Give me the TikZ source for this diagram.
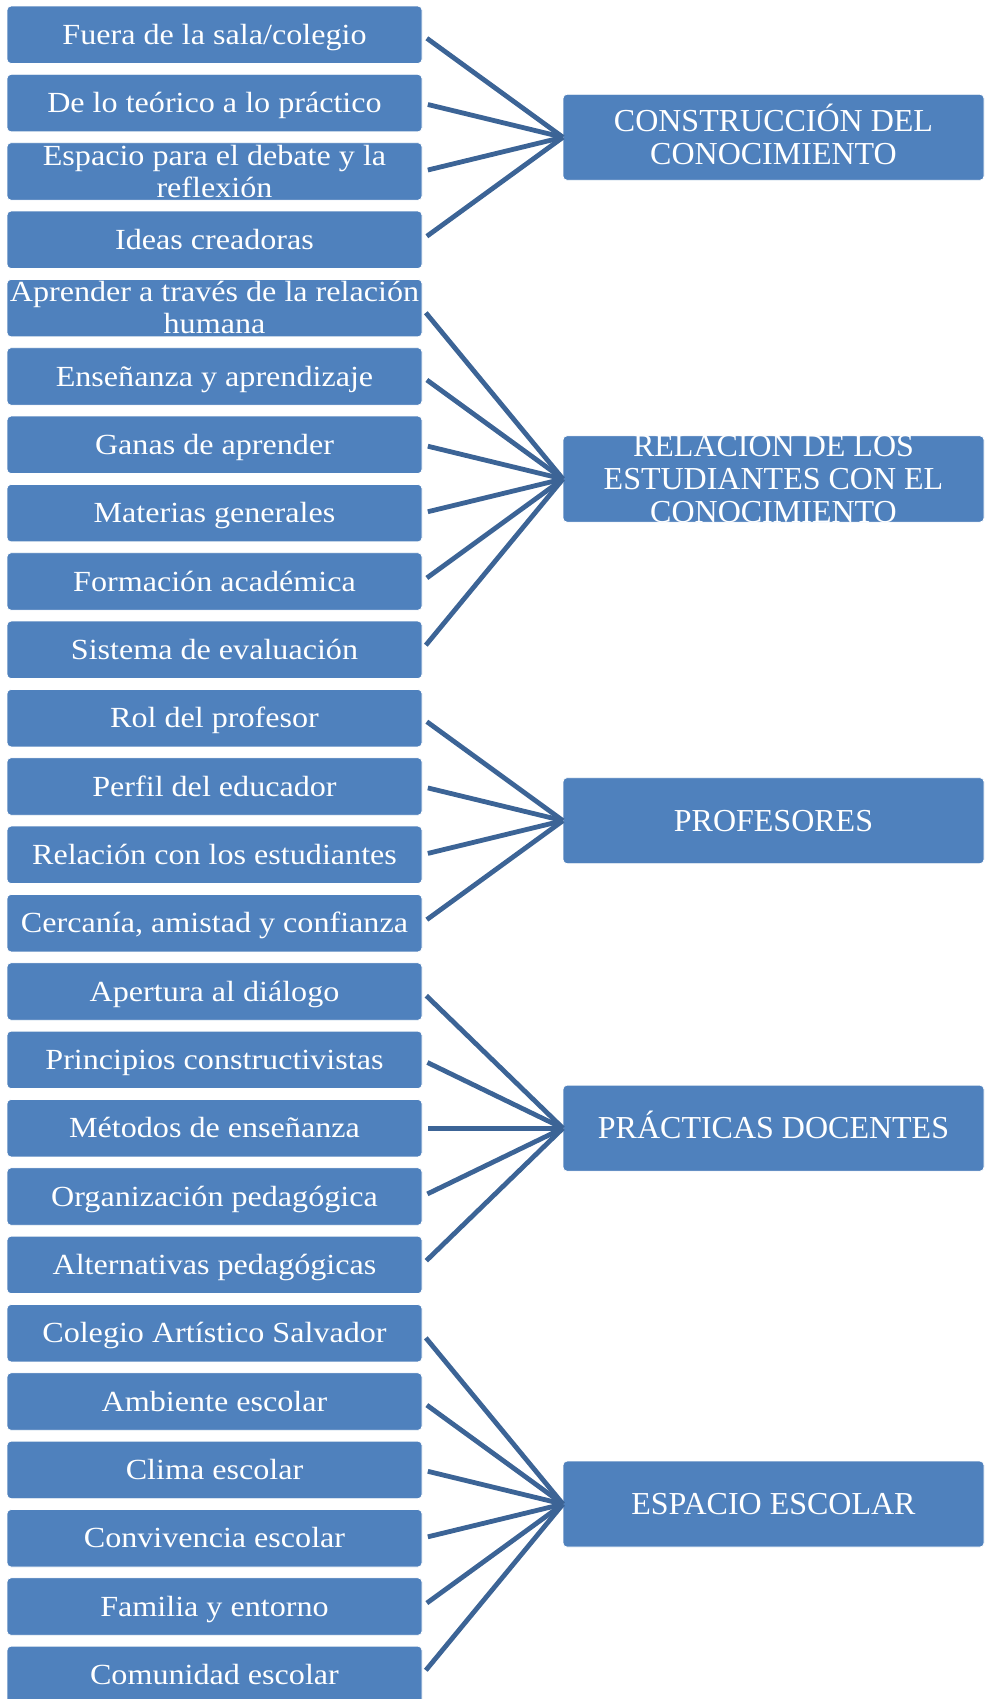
\documentclass[tikz,border=0pt]{standalone}
\usepackage{fontspec}
\setmainfont{Liberation Serif}
\newfontfamily\itemfont{Liberation Serif}[FakeStretch=1.1]
\usetikzlibrary{calc,chains,positioning}
\definecolor{boxblue}{RGB}{79,129,189}
\definecolor{linkblue}{RGB}{60,100,150}
\tikzset{item/.style={rectangle, fill=boxblue, draw=white, line width=0.4pt, rounded corners=2pt, minimum width=207.5pt, minimum height=28.75pt, inner sep=0pt, outer sep=0pt, text=white, align=center, font=\itemfont\fontsize{14.6}{16}\selectfont, text height=9.7pt, text depth=0pt}, twoline/.style={text height=25.7pt}, topic/.style={rectangle, fill=boxblue, draw=white, line width=0.4pt, rounded corners=2pt, minimum width=210.5pt, minimum height=43pt, inner sep=0pt, outer sep=0pt, text=white, align=center, font=\fontsize{16}{16.3}\selectfont, text height=10.6pt, text depth=0pt}, topictwo/.style={text height=26.9pt}, topicthree/.style={text height=43.2pt}, link/.style={draw=linkblue, line width=2.4pt, shorten <=3pt}, node distance=5.42pt, start chain=going below}

\begin{document}
\begin{tikzpicture}[x=0.5pt, y=-0.5pt]
    \useasboundingbox (0,0) rectangle (985,1699);
    \node[item,on chain] (L1) at (214.5,34.75) {Fuera de la sala/colegio};
    \node[item,on chain] (L2) {De lo teórico a lo práctico};
    \node[item,twoline,on chain] (L3) {Espacio para el debate y la\\reflexión};
    \node[item,on chain] (L4) {Ideas creadoras};
    \node[item,twoline,on chain] (L5) {Aprender a través de la relación\\humana};
    \node[item,on chain] (L6) {Enseñanza y aprendizaje};
    \node[item,on chain] (L7) {Ganas de aprender};
    \node[item,on chain] (L8) {Materias generales};
    \node[item,on chain] (L9) {Formación académica};
    \node[item,on chain] (L10) {Sistema de evaluación};
    \node[item,on chain] (L11) {Rol del profesor};
    \node[item,on chain] (L12) {Perfil del educador};
    \node[item,on chain] (L13) {Relación con los estudiantes};
    \node[item,on chain] (L14) {Cercanía, amistad y confianza};
    \node[item,on chain] (L15) {Apertura al diálogo};
    \node[item,on chain] (L16) {Principios constructivistas};
    \node[item,on chain] (L17) {Métodos de enseñanza};
    \node[item,on chain] (L18) {Organización pedagógica};
    \node[item,on chain] (L19) {Alternativas pedagógicas};
    \node[item,on chain] (L20) {Colegio Artístico Salvador};
    \node[item,on chain] (L21) {Ambiente escolar};
    \node[item,on chain] (L22) {Clima escolar};
    \node[item,on chain] (L23) {Convivencia escolar};
    \node[item,on chain] (L24) {Familia y entorno};
    \node[item,on chain] (L25) {Comunidad escolar};
    \node[topic,topictwo] (C1) at ($(L1)!.5!(L4)+(559,0)$) {CONSTRUCCIÓN DEL\\CONOCIMIENTO};
    \node[topic,topicthree] (C2) at ($(L5)!.5!(L10)+(559,0)$) {RELACIÓN DE LOS\\ESTUDIANTES CON EL\\CONOCIMIENTO};
    \node[topic] (C3) at ($(L11)!.5!(L14)+(559,0)$) {PROFESORES};
    \node[topic] (C4) at ($(L17)+(559,0)$) {PRÁCTICAS DOCENTES};
    \node[topic] (C5) at ($(L20)!.5!(L25)+(559,0)$) {ESPACIO ESCOLAR};
    \path[link] (L1.east) edge (C1.west);
    \path[link] (L2.east) edge (C1.west);
    \path[link] (L3.east) edge (C1.west);
    \path[link] (L4.east) edge (C1.west);
    \path[link] (L5.east) edge (C2.west);
    \path[link] (L6.east) edge (C2.west);
    \path[link] (L7.east) edge (C2.west);
    \path[link] (L8.east) edge (C2.west);
    \path[link] (L9.east) edge (C2.west);
    \path[link] (L10.east) edge (C2.west);
    \path[link] (L11.east) edge (C3.west);
    \path[link] (L12.east) edge (C3.west);
    \path[link] (L13.east) edge (C3.west);
    \path[link] (L14.east) edge (C3.west);
    \path[link] (L15.east) edge (C4.west);
    \path[link] (L16.east) edge (C4.west);
    \path[link] (L17.east) edge (C4.west);
    \path[link] (L18.east) edge (C4.west);
    \path[link] (L19.east) edge (C4.west);
    \path[link] (L20.east) edge (C5.west);
    \path[link] (L21.east) edge (C5.west);
    \path[link] (L22.east) edge (C5.west);
    \path[link] (L23.east) edge (C5.west);
    \path[link] (L24.east) edge (C5.west);
    \path[link] (L25.east) edge (C5.west);
\end{tikzpicture}
\end{document}
